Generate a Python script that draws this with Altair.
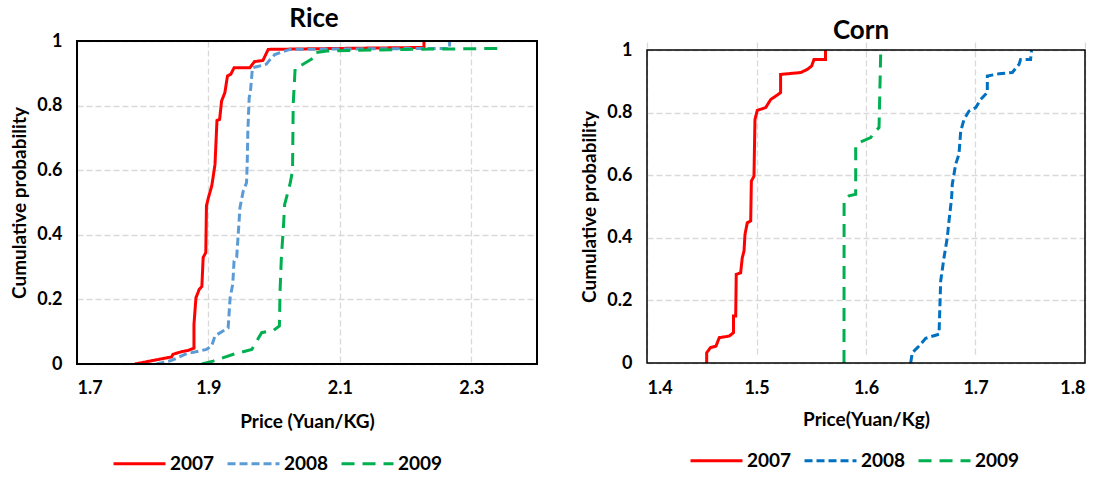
import altair as alt
import pandas as pd

years = ["2007", "2008", "2009"]

# ---------------- Rice (price in Yuan/KG, cumulative probability) ----------------
rice_2007_price = [1.788, 1.844, 1.846, 1.859, 1.869, 1.878, 1.878, 1.881, 1.886, 1.890, 1.892, 1.896,
                   1.897, 1.900, 1.905, 1.907, 1.910, 1.913, 1.917, 1.920, 1.925, 1.929, 1.934, 1.939,
                   1.963, 1.970, 1.983, 1.991, 2.100, 2.228, 2.228]
rice_2007_prob = [0.0, 0.022, 0.030, 0.038, 0.042, 0.049, 0.123, 0.205, 0.231, 0.240, 0.330, 0.345,
                  0.490, 0.515, 0.551, 0.577, 0.618, 0.754, 0.757, 0.814, 0.840, 0.892, 0.897, 0.917,
                  0.917, 0.936, 0.940, 0.974, 0.977, 0.980, 1.0]

rice_2008_price = [1.821, 1.844, 1.867, 1.897, 1.905, 1.910, 1.930, 1.933, 1.937, 1.939, 1.943, 1.945,
                   1.948, 1.953, 1.958, 1.959, 1.960, 1.962, 1.964, 1.967, 1.988, 1.994, 2.001, 2.009,
                   2.024, 2.150, 2.267, 2.267]
rice_2008_prob = [0.0, 0.011, 0.032, 0.045, 0.056, 0.087, 0.112, 0.205, 0.247, 0.319, 0.330, 0.391,
                  0.484, 0.536, 0.561, 0.618, 0.721, 0.824, 0.845, 0.917, 0.928, 0.943, 0.958, 0.964,
                  0.974, 0.976, 0.977, 1.0]

rice_2009_price = [1.890, 1.907, 1.938, 1.966, 1.981, 1.999, 2.008, 2.009, 2.011, 2.014, 2.016, 2.024,
                   2.028, 2.029, 2.032, 2.044, 2.060, 2.062, 2.080, 2.200, 2.341, 2.341]
rice_2009_prob = [0.0, 0.009, 0.030, 0.045, 0.097, 0.104, 0.118, 0.226, 0.330, 0.420, 0.494, 0.556,
                  0.598, 0.804, 0.917, 0.928, 0.948, 0.964, 0.969, 0.974, 0.977, 1.0]

# ---------------- Corn (price in Yuan/Kg, cumulative probability) ----------------
corn_2007_price = [1.4545, 1.4545, 1.458, 1.463, 1.466, 1.475, 1.479, 1.479, 1.481, 1.4815, 1.4855, 1.487,
                   1.4886, 1.4895, 1.4916, 1.4947, 1.4953, 1.4977, 1.4986, 1.5007, 1.5084, 1.513, 1.519,
                   1.522, 1.522, 1.5404, 1.5464, 1.5504, 1.5525, 1.563, 1.563]
corn_2007_prob = [0.0, 0.033, 0.049, 0.054, 0.081, 0.086, 0.097, 0.150, 0.150, 0.283, 0.288, 0.336,
                  0.358, 0.411, 0.448, 0.454, 0.581, 0.597, 0.778, 0.807, 0.816, 0.842, 0.856,
                  0.864, 0.922, 0.928, 0.938, 0.949, 0.970, 0.970, 1.0]

corn_2008_price = [1.6408, 1.6423, 1.6484, 1.6545, 1.6667, 1.6682, 1.6712, 1.6742, 1.6758, 1.6782, 1.6788,
                   1.6819, 1.6849, 1.6865, 1.6895, 1.6941, 1.7002, 1.7047, 1.7108, 1.7108, 1.7215, 1.7336,
                   1.7397, 1.7412, 1.7503, 1.7512]
corn_2008_prob = [0.0, 0.033, 0.054, 0.079, 0.092, 0.262, 0.336, 0.400, 0.454, 0.528, 0.571,
                  0.635, 0.667, 0.741, 0.778, 0.805, 0.816, 0.842, 0.864, 0.917, 0.924, 0.928,
                  0.954, 0.970, 0.970, 1.0]

corn_2009_price = [1.5799, 1.5800, 1.5845, 1.5906, 1.5906, 1.5936, 1.6043, 1.6073, 1.6119, 1.6134, 1.6134]
corn_2009_prob = [0.0, 0.518, 0.534, 0.539, 0.693, 0.704, 0.720, 0.736, 0.752, 0.986, 1.0]

rice_ticks = [1.7, 1.9, 2.1, 2.3]
corn_ticks = [1.4, 1.5, 1.6, 1.7, 1.8]
prob_ticks = [0, 0.2, 0.4, 0.6, 0.8, 1]

rice_colors = ["#FF0000", "#5B9BD5", "#00B050"]
corn_colors = ["#FF0000", "#0070C0", "#00B050"]
dashes = [[1, 0], [8, 4], [13, 8]]

FONT = "Lato"


def build(series):
    rows = []
    for year, xs, ps in series:
        for i, (x, p) in enumerate(zip(xs, ps)):
            rows.append({"year": year, "price": x, "prob": p, "i": i})
    return pd.DataFrame(rows)


rice_df = build([("2007", rice_2007_price, rice_2007_prob),
                 ("2008", rice_2008_price, rice_2008_prob),
                 ("2009", rice_2009_price, rice_2009_prob)])
corn_df = build([("2007", corn_2007_price, corn_2007_prob),
                 ("2008", corn_2008_price, corn_2008_prob),
                 ("2009", corn_2009_price, corn_2009_prob)])


def panel(df, title, xtitle, xdom, xticks, colors, w, h, yrange, frame_w, title_dx, title_off,
          leg_x, leg_y, xtitle_pad):
    frame_df = pd.DataFrame({"x0": [xdom[0]], "x1": [xdom[1]], "y0": [0], "y1": [1]})
    yscale = alt.Scale(domain=[0, 1], nice=False, range=yrange)
    xscale = alt.Scale(domain=xdom, nice=False, zero=False)
    lines = alt.Chart(df).mark_line(strokeWidth=3, clip=True).encode(
        x=alt.X("price:Q", scale=xscale, title=xtitle,
                axis=alt.Axis(values=xticks, format=".1f", titlePadding=xtitle_pad)),
        y=alt.Y("prob:Q", scale=yscale, title="Cumulative probability",
                axis=alt.Axis(values=prob_ticks, format="~g", titlePadding=7)),
        color=alt.Color("year:N", scale=alt.Scale(domain=years, range=colors), title=None,
                        legend=alt.Legend(orient="none", legendX=leg_x, legendY=leg_y,
                                          direction="horizontal", symbolType="stroke",
                                          symbolSize=2700, symbolStrokeWidth=3,
                                          labelFont=FONT, labelFontSize=19, labelFontWeight="bold",
                                          labelColor="#000000", labelOffset=3, columnPadding=6,
                                          padding=0)),
        strokeDash=alt.StrokeDash("year:N", scale=alt.Scale(domain=years, range=dashes),
                                  title=None, legend=alt.Legend(orient="none", legendX=leg_x,
                                                                legendY=leg_y)),
        order=alt.Order("i:Q"),
    )
    frame = alt.Chart(frame_df).mark_rect(filled=False, stroke="#000000", strokeWidth=frame_w).encode(
        x=alt.X("x0:Q", scale=xscale),
        x2="x1:Q",
        y=alt.Y("y0:Q", scale=yscale),
        y2="y1:Q",
    )
    return alt.layer(lines, frame).properties(
        width=w, height=h,
        title=alt.TitleParams(title, font=FONT, fontSize=26, fontWeight="bold", color="#000000",
                              anchor="middle", dx=title_dx, offset=title_off),
    )


rice = panel(rice_df, "Rice", "Price (Yuan/KG)", [1.7, 2.4], rice_ticks, rice_colors,
             460, 323, [323, 0], 2, 7, 0, 35, 395, 15)
corn = panel(corn_df, "Corn", "Price(Yuan/Kg)", [1.4, 1.8], corn_ticks, corn_colors,
             438, 323, [322, 9], 1.5, -5, -3, 42, 392, 13)

chart = alt.hconcat(rice, corn, spacing=42).resolve_scale(
    color="independent", strokeDash="independent"
).properties(
    padding={"left": 10, "top": 6, "right": 5, "bottom": 5}
).configure(
    font=FONT
).configure_view(
    strokeWidth=0
).configure_axis(
    labelFont=FONT, labelFontSize=18, labelFontWeight="bold", labelColor="#000000",
    titleFont=FONT, titleFontSize=19, titleFontWeight="bold", titleColor="#000000",
    grid=True, gridColor="#D9D9D9", gridDash=[6, 3], gridWidth=1.3,
    ticks=False, domain=False, labelPadding=15,
)

chart.save("out.html", embed_options={"renderer": "svg", "actions": False})
